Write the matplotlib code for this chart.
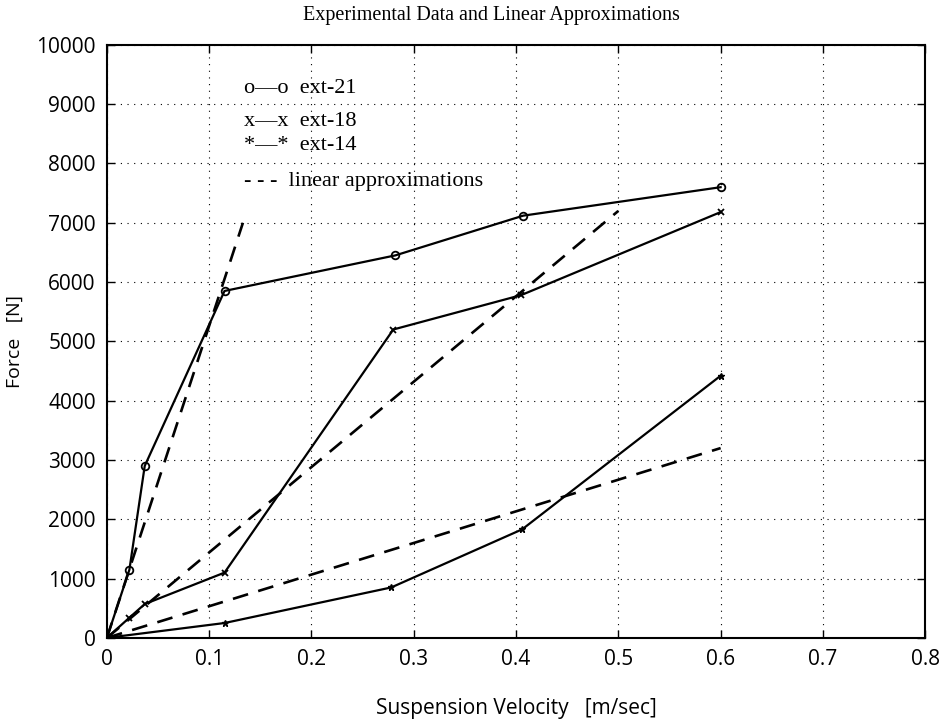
import matplotlib
matplotlib.use("Agg")
import matplotlib.pyplot as plt

plt.rcParams['font.family'] = ['Liberation Serif', 'DejaVu Serif']
LABEL_FONT = ['Open Sans', 'DejaVu Sans']

# measured damper data: suspension velocity [m/s] vs force [N]
vel_21 = [0.0, 0.022, 0.037, 0.115, 0.282, 0.407, 0.6]
force_21 = [0, 1150, 2900, 5850, 6450, 7120, 7600]

vel_18 = [0.0, 0.022, 0.037, 0.115, 0.280, 0.405, 0.6]
force_18 = [0, 340, 570, 1100, 5200, 5780, 7180]

vel_14 = [0.0, 0.115, 0.278, 0.406, 0.6]
force_14 = [0, 250, 850, 1830, 4420]

# linear approximations (end points of each fitted line)
lin_21_v = [0.0, 0.133]
lin_21_f = [0, 7000]
lin_18_v = [0.0, 0.50]
lin_18_f = [0, 7200]
lin_14_v = [0.0, 0.60]
lin_14_f = [0, 3200]

x_ticks = [0, 0.1, 0.2, 0.3, 0.4, 0.5, 0.6, 0.7, 0.8]
x_tick_labels = ['0', '0.1', '0.2', '0.3', '0.4', '0.5', '0.6', '0.7', '0.8']
y_ticks = [0, 1000, 2000, 3000, 4000, 5000, 6000, 7000, 8000, 9000, 10000]

legend_lines = ["o\u2014o  ext-21", "x\u2014x  ext-18", "*\u2014*  ext-14",
                "- - -  linear approximations"]

fig = plt.figure(figsize=(9.46, 7.24), dpi=100)
ax = fig.add_axes([0.113, 0.119, 0.865, 0.819])

ax.plot(vel_21, force_21, '-o', color='black', lw=1.6, ms=5.5, mfc='none', mew=1.3)
ax.plot(vel_18, force_18, '-x', color='black', lw=1.6, ms=5, mew=1.3)
ax.plot(vel_14, force_14, '-*', color='black', lw=1.6, ms=5)
for v, f in [(lin_21_v, lin_21_f), (lin_18_v, lin_18_f), (lin_14_v, lin_14_f)]:
    ax.plot(v, f, color='black', lw=1.9, dashes=(6, 4))

ax.set_xlim(0, 0.8)
ax.set_ylim(0, 10000)
ax.set_xticks(x_ticks)
ax.set_xticklabels(x_tick_labels)
ax.set_yticks(y_ticks)
ax.tick_params(direction='in', length=6, width=1, top=True, right=True, pad=8)
for lbl in ax.get_xticklabels() + ax.get_yticklabels():
    lbl.set_family(LABEL_FONT)
    lbl.set_fontsize(15)
ax.grid(True, color='black', linestyle=(0, (1, 5)), lw=0.8)
for s in ax.spines.values():
    s.set_linewidth(1.5)

fig.text(0.519, 0.979, "Experimental Data and Linear Approximations",
         fontsize=14.5, ha='center', va='center')
ax.set_xlabel("Suspension Velocity   [m/sec]", family=LABEL_FONT, fontsize=15,
              labelpad=20)
ax.set_ylabel("Force   [N]", family=LABEL_FONT, fontsize=14, labelpad=9)

for txt, yy in zip(legend_lines, [0.927, 0.870, 0.831, 0.769]):
    ax.text(0.167, yy, txt, transform=ax.transAxes, fontsize=16, va='center')

fig.savefig("out.png", dpi=100)
